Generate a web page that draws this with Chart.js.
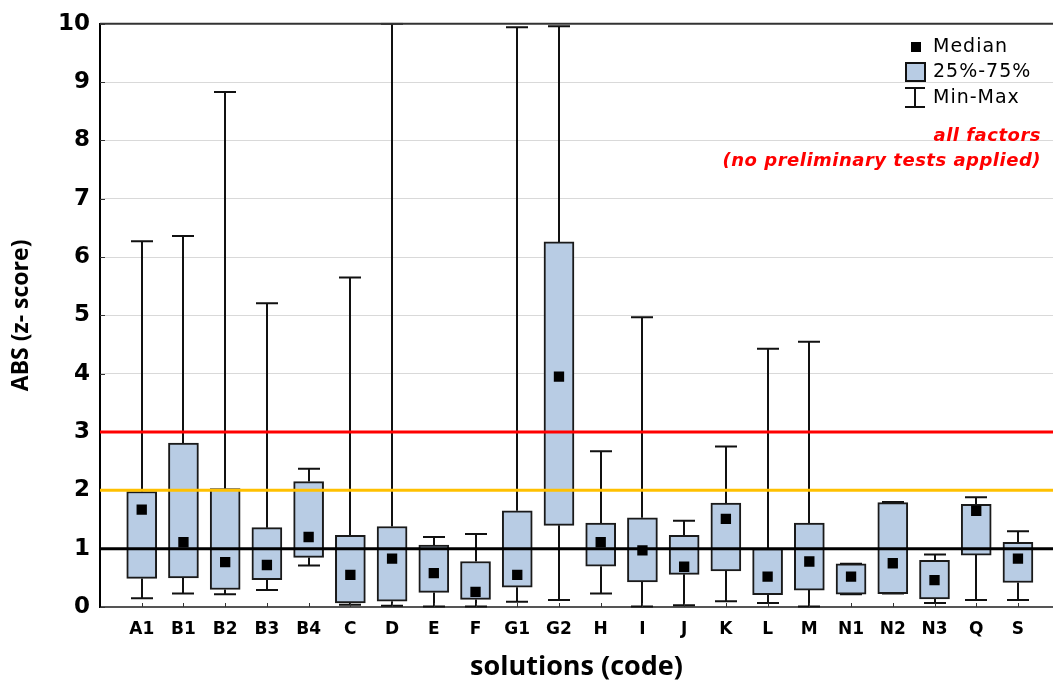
<!DOCTYPE html>
<html>
<head>
<meta charset="utf-8">
<script src="https://cdn.jsdelivr.net/npm/chart.js@4.4.1/dist/chart.umd.min.js"></script>
<style>
  html, body { margin: 0; padding: 0; background: #fff; }
  #wrap { width: 1053px; height: 681px; position: relative; }
</style>
</head>
<body>
<div id="wrap"><canvas id="chart"></canvas></div>
<script>
// --- DATA ---
const categories = ['A1', 'B1', 'B2', 'B3', 'B4', 'C', 'D', 'E', 'F', 'G1', 'G2', 'H', 'I', 'J', 'K', 'L', 'M', 'N1', 'N2', 'N3', 'Q', 'S'];
const minValues    = [0.15, 0.23, 0.22, 0.29, 0.71, 0.04, 0.02, 0.01, 0.01, 0.09, 0.12, 0.23, 0.01, 0.03, 0.10, 0.07, 0.01, 0.22, 0.23, 0.07, 0.12, 0.12];
const q1Values     = [0.49, 0.50, 0.30, 0.47, 0.85, 0.07, 0.10, 0.25, 0.13, 0.34, 1.40, 0.70, 0.43, 0.56, 0.62, 0.21, 0.29, 0.22, 0.23, 0.14, 0.89, 0.42];
const medianValues = [1.67, 1.11, 0.77, 0.72, 1.20, 0.55, 0.83, 0.58, 0.26, 0.55, 3.95, 1.11, 0.97, 0.69, 1.51, 0.52, 0.78, 0.52, 0.75, 0.46, 1.65, 0.83];
const q3Values     = [1.98, 2.81, 2.03, 1.36, 2.15, 1.23, 1.38, 1.06, 0.78, 1.65, 6.26, 1.44, 1.53, 1.23, 1.78, 1.00, 1.44, 0.74, 1.79, 0.80, 1.76, 1.11];
const maxValues    = [6.27, 6.36, 8.83, 5.21, 2.37, 5.65, 10.0, 1.20, 1.25, 9.94, 9.96, 2.67, 4.97, 1.48, 2.75, 4.43, 4.55, 0.74, 1.80, 0.90, 1.88, 1.30];

// horizontal reference levels
const refLevels = [3, 2, 1];
const refColors = ['#ff0000', '#ffc000', '#000000'];

const yTicks = [0, 1, 2, 3, 4, 5, 6, 7, 8, 9, 10];
const xMin = -1, xMax = 21.84;

const boxFill = '#b8cce4';

// --- PLUGIN: whiskers, frame, legend, notes ---
const boxPlotExtras = {
    id: 'boxPlotExtras',
    beforeDatasetsDraw(chart) {
        const { ctx, scales: { x, y }, chartArea } = chart;
        ctx.save();
        ctx.beginPath();
        ctx.rect(chartArea.left, chartArea.top - 1, chartArea.width, chartArea.height + 2);
        ctx.clip();
        ctx.strokeStyle = '#111';
        ctx.lineWidth = 2;
        categories.forEach((c, i) => {
            const px = Math.round(x.getPixelForValue(i));
            const yMin = y.getPixelForValue(minValues[i]);
            const yQ1 = y.getPixelForValue(q1Values[i]);
            const yQ3 = y.getPixelForValue(q3Values[i]);
            const yMax = y.getPixelForValue(maxValues[i]);
            ctx.beginPath();
            ctx.moveTo(px, yMax); ctx.lineTo(px, yQ3);
            ctx.moveTo(px, yQ1); ctx.lineTo(px, yMin);
            ctx.moveTo(px - 11, yMax); ctx.lineTo(px + 11, yMax);
            ctx.moveTo(px - 11, yMin); ctx.lineTo(px + 11, yMin);
            ctx.stroke();
        });
        // small inward ticks
        ctx.lineWidth = 1;
        ctx.strokeStyle = '#333';
        ctx.beginPath();
        categories.forEach((c, i) => {
            const px = Math.round(x.getPixelForValue(i)) + 0.5;
            ctx.moveTo(px, chartArea.bottom); ctx.lineTo(px, chartArea.bottom - 4);
        });
        yTicks.forEach(v => {
            const py = Math.round(y.getPixelForValue(v)) + 0.5;
            ctx.moveTo(chartArea.left, py); ctx.lineTo(chartArea.left + 5, py);
        });
        ctx.stroke();
        ctx.restore();
    },
    afterDraw(chart) {
        const { ctx, chartArea } = chart;
        ctx.save();
        // top frame
        ctx.strokeStyle = '#333';
        ctx.lineWidth = 2;
        ctx.beginPath();
        ctx.moveTo(chartArea.left, chartArea.top);
        ctx.lineTo(chartArea.right, chartArea.top);
        ctx.stroke();

        // legend
        ctx.fillStyle = '#000';
        ctx.fillRect(911, 42, 10, 10);
        ctx.fillStyle = boxFill;
        ctx.fillRect(906, 63, 19, 18);
        ctx.strokeStyle = '#111';
        ctx.lineWidth = 2;
        ctx.strokeRect(906, 63, 19, 18);
        ctx.beginPath();
        ctx.moveTo(905, 88); ctx.lineTo(925, 88);
        ctx.moveTo(915, 88); ctx.lineTo(915, 107);
        ctx.moveTo(905, 107); ctx.lineTo(925, 107);
        ctx.stroke();

        ctx.fillStyle = '#000';
        ctx.font = '19px "DejaVu Sans"';
        ctx.textBaseline = 'middle';
        ctx.textAlign = 'left';
        if ('letterSpacing' in ctx) ctx.letterSpacing = '1px';
        ctx.fillText('Median', 933, 47);
        ctx.fillText('25%-75%', 933, 72);
        ctx.fillText('Min-Max', 933, 98);

        // notes
        ctx.fillStyle = '#ff0000';
        ctx.font = 'italic bold 18px "DejaVu Sans"';
        ctx.textAlign = 'right';
        if ('letterSpacing' in ctx) ctx.letterSpacing = '0.5px';
        ctx.fillText('all factors', 1041, 136);
        ctx.fillText('(no preliminary tests applied)', 1041, 161);
        ctx.restore();
    }
};

// --- DATASETS ---
const boxData = categories.map((c, i) => ({ x: i, y: [q1Values[i], q3Values[i]] }));
const medianData = categories.map((c, i) => ({ x: i, y: medianValues[i] }));

const refDatasets = refLevels.map((lvl, k) => ({
    type: 'line',
    data: [{ x: xMin, y: lvl }, { x: xMax, y: lvl }],
    borderColor: refColors[k],
    borderWidth: 3,
    pointRadius: 0,
    order: 1
}));

new Chart(document.getElementById('chart'), {
    type: 'bar',
    data: {
        datasets: [
            {
                type: 'scatter',
                label: 'Median',
                data: medianData,
                pointStyle: 'rect',
                pointRadius: 7.3,
                backgroundColor: '#000',
                borderWidth: 0,
                order: 0
            },
            ...refDatasets,
            {
                type: 'bar',
                label: '25%-75%',
                data: boxData,
                backgroundColor: boxFill,
                borderColor: '#1a1a1a',
                borderWidth: 2,
                borderSkipped: false,
                barThickness: 30,
                order: 2
            }
        ]
    },
    options: {
        responsive: true,
        maintainAspectRatio: false,
        animation: false,
        layout: { padding: { top: 22, right: 0, left: 0, bottom: 0 }, autoPadding: false },
        plugins: { legend: { display: false }, tooltip: { enabled: false } },
        scales: {
            x: {
                type: 'linear',
                offset: false,
                min: xMin,
                max: xMax,
                afterBuildTicks: scale => { scale.ticks = categories.map((c, i) => ({ value: i })); },
                afterFit: scale => { scale.height = 74; },
                ticks: {
                    autoSkip: false,
                    maxRotation: 0,
                    padding: 12,
                    color: '#000',
                    font: { family: 'DejaVu Sans', weight: 'bold', size: 17 },
                    callback: v => categories[v] ?? ''
                },
                grid: { display: false, drawTicks: false },
                border: { color: '#555', width: 2 },
                title: {
                    display: true,
                    text: 'solutions (code)',
                    color: '#000',
                    font: { family: 'Open Sans', weight: 'bold', size: 27, lineHeight: 1 },
                    padding: { top: 0, bottom: 0 }
                }
            },
            y: {
                min: 0,
                max: 10,
                afterBuildTicks: scale => { scale.ticks = yTicks.map(v => ({ value: v })); },
                afterFit: scale => { scale.width = 100; },
                ticks: {
                    padding: 10,
                    color: '#000',
                    font: { family: 'DejaVu Sans', weight: 'bold', size: 23 }
                },
                grid: { color: '#d9d9d9', lineWidth: 1, drawTicks: false },
                border: { color: '#000', width: 2 },
                title: {
                    display: true,
                    text: 'ABS (z- score)',
                    color: '#000',
                    font: { family: 'Open Sans', weight: 'bold', size: 23, lineHeight: 1 },
                    padding: { top: 10, bottom: 0 }
                }
            }
        }
    },
    plugins: [boxPlotExtras]
});
</script>
</body>
</html>
